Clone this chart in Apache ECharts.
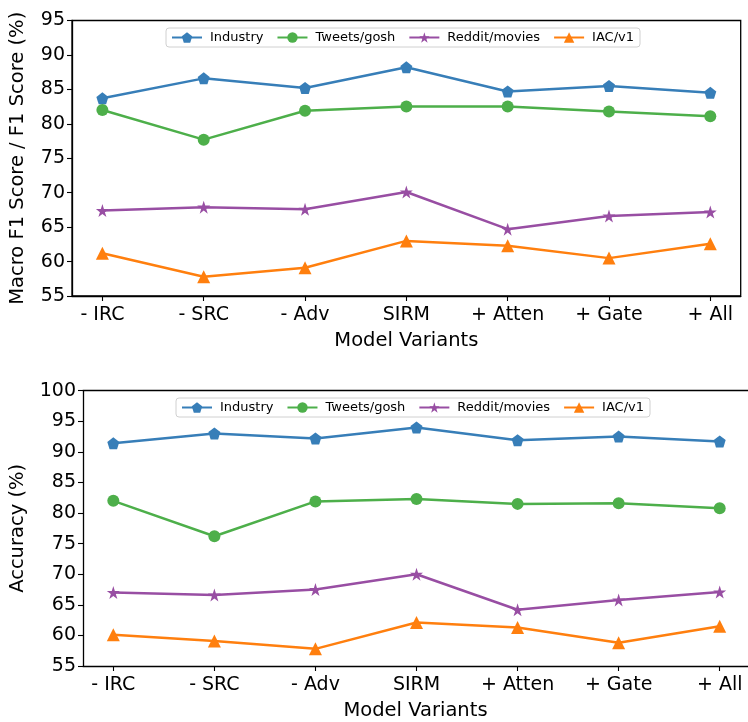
<!DOCTYPE html>
<html><head><meta charset="utf-8">
<script src="https://cdn.jsdelivr.net/npm/echarts@6/dist/echarts.min.js"></script>
<style>html,body{margin:0;padding:0;background:#fff}#c{width:748px;height:722px}</style>
</head><body><div id="c"></div>
<script>
const categories = ['- IRC', '- SRC', '- Adv', 'SIRM', '+ Atten', '+ Gate', '+ All'];
const seriesNames = ['Industry', 'Tweets/gosh', 'Reddit/movies', 'IAC/v1'];
// Top panel: Macro F1 Score / F1 Score (%)
const f1Industry = [83.7, 86.6, 85.2, 88.2, 84.7, 85.5, 84.5];
const f1Tweets   = [82.0, 77.7, 81.9, 82.5, 82.5, 81.8, 81.1];
const f1Reddit   = [67.4, 67.9, 67.6, 70.1, 64.7, 66.6, 67.2];
const f1IAC      = [61.2, 57.8, 59.1, 63.0, 62.3, 60.5, 62.6];
// Bottom panel: Accuracy (%)
const accIndustry = [91.4, 93.0, 92.2, 94.0, 91.9, 92.5, 91.7];
const accTweets   = [82.0, 76.2, 81.9, 82.3, 81.5, 81.6, 80.8];
const accReddit   = [67.0, 66.6, 67.5, 70.0, 64.2, 65.8, 67.1];
const accIAC      = [60.1, 59.1, 57.8, 62.1, 61.3, 58.8, 61.5];
const yTicksTop = [55, 60, 65, 70, 75, 80, 85, 90, 95];
const yTicksBottom = [55, 60, 65, 70, 75, 80, 85, 90, 95, 100];

const colors = ['#377eb8', '#4daf4a', '#984ea3', '#ff7f0e'];
const pentagon = 'path://M0,-1L0.951,-0.309L0.588,0.809L-0.588,0.809L-0.951,-0.309Z';
const star = 'path://M0,-1L0.2245,-0.309L0.951,-0.309L0.3633,0.118L0.588,0.809L0,0.382L-0.588,0.809L-0.3633,0.118L-0.951,-0.309L-0.2245,-0.309Z';
const symbols = [pentagon, 'circle', star, 'triangle'];
const symSizes = [12, 12, 13, 13];
const FONT = 'DejaVu Sans';
const idx = categories.map((c, i) => i);

function xAxis(gridIndex, max) {
  return {
    type: 'value', gridIndex, min: -0.3, max,
    name: 'Model Variants', nameLocation: 'middle', nameGap: 35,
    nameTextStyle: { fontFamily: FONT, fontSize: 19.5, color: '#000' },
    axisLine: { show: true, onZero: false, lineStyle: { color: '#000', width: 1.3 } },
    axisTick: { show: true, length: 5, customValues: idx, lineStyle: { color: '#000', width: 1.1 } },
    axisLabel: { customValues: idx, margin: 10, fontFamily: FONT, fontSize: 19, color: '#000',
      formatter: v => categories[Math.round(v)] },
    splitLine: { show: false }
  };
}
function yAxis(gridIndex, ticks, name, gap) {
  return {
    type: 'value', gridIndex, min: ticks[0], max: ticks[ticks.length - 1], interval: 5,
    name, nameLocation: 'middle', nameGap: gap,
    nameTextStyle: { fontFamily: FONT, fontSize: 19.5, color: '#000' },
    axisLine: { show: true, onZero: false, lineStyle: { color: '#000', width: 1.3 } },
    axisTick: { show: true, length: 5, lineStyle: { color: '#000', width: 1.1 } },
    axisLabel: { margin: 7, fontFamily: FONT, fontSize: 19, color: '#000' },
    splitLine: { show: false }
  };
}
function mk(name, k, vals, gi) {
  return {
    type: 'line', name, xAxisIndex: gi, yAxisIndex: gi,
    data: vals.map((v, i) => [idx[i], v]),
    symbol: symbols[k], symbolSize: symSizes[k],
    itemStyle: { color: colors[k] },
    lineStyle: { color: colors[k], width: 2.5 },
    emphasis: { disabled: true }, animation: false, z: 3
  };
}
function legend(left, top) {
  return {
    data: seriesNames, left, top, orient: 'horizontal',
    itemWidth: 30, itemHeight: 13, itemGap: 13,
    padding: [3, 6, 3, 5],
    borderColor: '#d0d0d0', borderWidth: 1, borderRadius: 3,
    backgroundColor: 'rgba(255,255,255,0.85)',
    textStyle: { fontFamily: FONT, fontSize: 13, color: '#000', padding: [0, 0, 0, 3] },
    selectedMode: false, z: 10
  };
}
const chart = echarts.init(document.getElementById('c'), null, { renderer: 'canvas' });
chart.setOption({
  backgroundColor: '#fff',
  animation: false,
  grid: [
    { left: 67.3, top: 20.5, width: 673.4, height: 275.5, show: true, borderColor: '#000', borderWidth: 1.3, backgroundColor: 'transparent' },
    { left: 77.3, top: 390.7, width: 670.7, height: 276, show: false }
  ],
  legend: [legend(166, 28), legend(176, 398)],
  xAxis: [
    xAxis(0, 6.3),
    xAxis(1, 6.28),
    { type: 'value', gridIndex: 1, position: 'top', min: -0.3, max: 6.28,
      axisLine: { show: true, onZero: false, lineStyle: { color: '#000', width: 1.3 } },
      axisTick: { show: false }, axisLabel: { show: false }, splitLine: { show: false } }
  ],
  yAxis: [
    yAxis(0, yTicksTop, 'Macro F1 Score / F1 Score (%)', 44),
    yAxis(1, yTicksBottom, 'Accuracy (%)', 55)
  ],
  series: [
    mk(seriesNames[0], 0, f1Industry, 0),
    mk(seriesNames[1], 1, f1Tweets, 0),
    mk(seriesNames[2], 2, f1Reddit, 0),
    mk(seriesNames[3], 3, f1IAC, 0),
    mk(seriesNames[0], 0, accIndustry, 1),
    mk(seriesNames[1], 1, accTweets, 1),
    mk(seriesNames[2], 2, accReddit, 1),
    mk(seriesNames[3], 3, accIAC, 1)
  ]
});
</script></body></html>
